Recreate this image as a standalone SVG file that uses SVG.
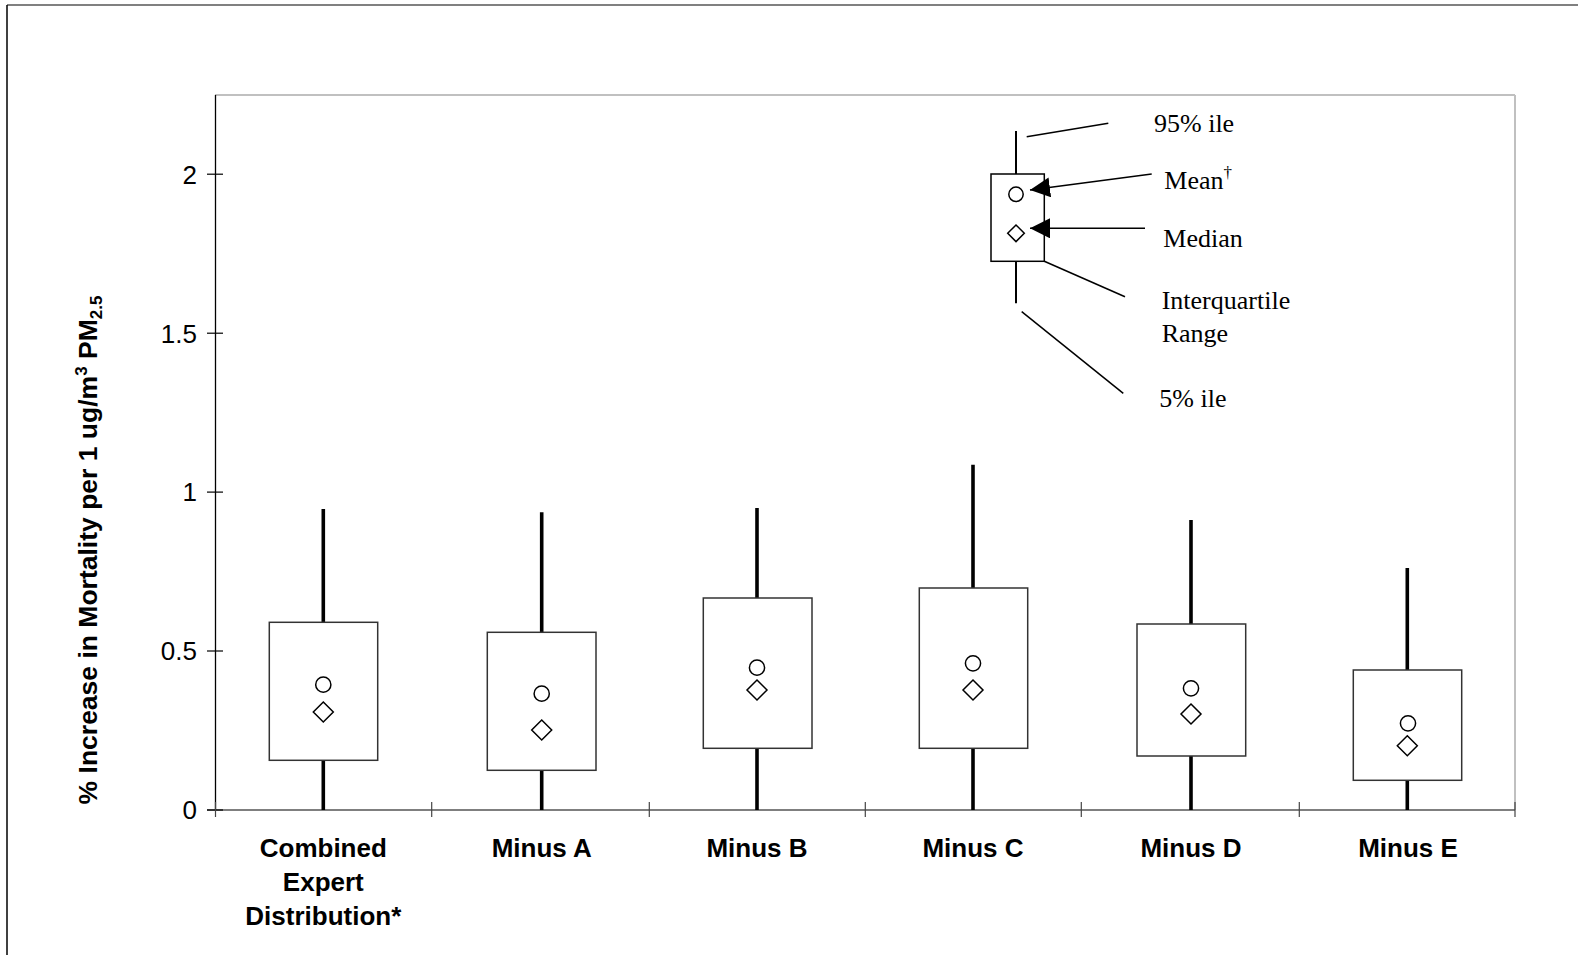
<svg xmlns="http://www.w3.org/2000/svg" width="1578" height="955" viewBox="0 0 1578 955">
<defs>
<style>
.box{fill:#fff;stroke:#333;stroke-width:1.5}
.wh{stroke:#000;stroke-width:3.6}
.mean{fill:none;stroke:#000;stroke-width:1.5}
.med{fill:none;stroke:#000;stroke-width:1.5}
.tick{stroke:#000;stroke-width:1.2}
.xtick{stroke:#444;stroke-width:1.2}
.tl{font-family:"Liberation Sans",Arial,sans-serif;font-size:26px;fill:#000;text-anchor:end}
.xl{font-family:"Liberation Sans",Arial,sans-serif;font-size:26px;font-weight:bold;fill:#000;text-anchor:middle}
.lg{font-family:"Liberation Serif","Times New Roman",serif;font-size:26px;fill:#000}
.ll{stroke:#000;stroke-width:1.5;fill:none}
</style>
<marker id="ah" markerUnits="userSpaceOnUse" markerWidth="20" markerHeight="20" refX="20" refY="10" orient="auto">
<path d="M0,0 L20,10 L0,20 Z" fill="#000"/>
</marker>
</defs>
<rect x="0" y="0" width="1578" height="955" fill="#fff"/>
<!-- outer frame -->
<line x1="7" y1="5" x2="1578" y2="5" stroke="#808080" stroke-width="2"/>
<line x1="7" y1="5" x2="7" y2="955" stroke="#000" stroke-width="1.5"/>
<!-- plot frame -->
<g id="plot-frame">
<line x1="215" y1="95" x2="1515" y2="95" stroke="#c0c0c0" stroke-width="2"/>
<line x1="1515" y1="95" x2="1515" y2="810" stroke="#c0c0c0" stroke-width="2"/>
<line x1="215.5" y1="95" x2="215.5" y2="810" stroke="#000" stroke-width="1.3"/>
<line x1="207" y1="810" x2="1515" y2="810" stroke="#555" stroke-width="1.5"/>
</g>
<!-- y ticks -->
<g id="y-axis">
<line class="tick" x1="207" y1="174.2" x2="223" y2="174.2"/>
<line class="tick" x1="207" y1="333.2" x2="223" y2="333.2"/>
<line class="tick" x1="207" y1="492.1" x2="223" y2="492.1"/>
<line class="tick" x1="207" y1="651" x2="223" y2="651"/>
<line class="tick" x1="207" y1="810" x2="223" y2="810"/>
<text class="tl" x="197" y="183.5">2</text>
<text class="tl" x="197" y="342.5">1.5</text>
<text class="tl" x="197" y="501.4">1</text>
<text class="tl" x="197" y="660.3">0.5</text>
<text class="tl" x="197" y="819.3">0</text>
<text font-family="'Liberation Sans',Arial,sans-serif" font-size="26.5" font-weight="bold" text-anchor="middle" transform="translate(97,550) rotate(-90)">% Increase in Mortality per 1 ug/m<tspan font-size="17" dy="-10">3</tspan><tspan dy="10"> PM</tspan><tspan font-size="17" dy="5">2.5</tspan></text>
</g>
<!-- x ticks -->
<g id="x-axis">
<line class="xtick" x1="215.5" y1="802" x2="215.5" y2="817"/>
<line class="xtick" x1="431.7" y1="802" x2="431.7" y2="817"/>
<line class="xtick" x1="649.3" y1="802" x2="649.3" y2="817"/>
<line class="xtick" x1="865.3" y1="802" x2="865.3" y2="817"/>
<line class="xtick" x1="1081.3" y1="802" x2="1081.3" y2="817"/>
<line class="xtick" x1="1299.3" y1="802" x2="1299.3" y2="817"/>
<line class="xtick" x1="1515" y1="802" x2="1515" y2="817"/>
<text class="xl" x="323.3" y="857">Combined</text>
<text class="xl" x="323.3" y="891">Expert</text>
<text class="xl" x="323.3" y="925">Distribution*</text>
<text class="xl" x="541.7" y="857">Minus A</text>
<text class="xl" x="757" y="857">Minus B</text>
<text class="xl" x="973" y="857">Minus C</text>
<text class="xl" x="1191" y="857">Minus D</text>
<text class="xl" x="1408" y="857">Minus E</text>
</g>
<!-- boxes -->
<g id="box-combined">
<line class="wh" x1="323.3" y1="509" x2="323.3" y2="810"/>
<rect class="box" x="269.3" y="622.3" width="108.4" height="138"/>
<circle class="mean" cx="323.3" cy="684.7" r="7.6"/>
<path class="med" d="M323.3,702 L333.3,712 L323.3,722 L313.3,712 Z"/>
</g>
<g id="box-minus-a">
<line class="wh" x1="541.7" y1="512.3" x2="541.7" y2="810"/>
<rect class="box" x="487.3" y="632.3" width="108.7" height="138"/>
<circle class="mean" cx="541.7" cy="693.7" r="7.6"/>
<path class="med" d="M541.7,720 L551.7,730 L541.7,740 L531.7,730 Z"/>
</g>
<g id="box-minus-b">
<line class="wh" x1="757" y1="508" x2="757" y2="810"/>
<rect class="box" x="703.3" y="598" width="108.7" height="150.3"/>
<circle class="mean" cx="757" cy="667.7" r="7.6"/>
<path class="med" d="M757,680 L767,690 L757,700 L747,690 Z"/>
</g>
<g id="box-minus-c">
<line class="wh" x1="973" y1="464.7" x2="973" y2="810"/>
<rect class="box" x="919.3" y="588" width="108.4" height="160.3"/>
<circle class="mean" cx="973" cy="663.3" r="7.6"/>
<path class="med" d="M973,680 L983,690 L973,700 L963,690 Z"/>
</g>
<g id="box-minus-d">
<line class="wh" x1="1191" y1="520" x2="1191" y2="810"/>
<rect class="box" x="1137" y="624" width="108.7" height="132"/>
<circle class="mean" cx="1191" cy="688.3" r="7.6"/>
<path class="med" d="M1191,704 L1201,714 L1191,724 L1181,714 Z"/>
</g>
<g id="box-minus-e">
<line class="wh" x1="1407.3" y1="568" x2="1407.3" y2="810"/>
<rect class="box" x="1353.3" y="670" width="108.4" height="110.3"/>
<circle class="mean" cx="1408" cy="723.3" r="7.6"/>
<path class="med" d="M1407.3,735.7 L1417.3,745.7 L1407.3,755.7 L1397.3,745.7 Z"/>
</g>
<!-- legend -->
<g id="legend-box">
<line x1="1016" y1="131" x2="1016" y2="303.3" stroke="#000" stroke-width="2"/>
<rect x="991" y="174" width="53.3" height="87.3" fill="#fff" stroke="#000" stroke-width="1.5"/>
<circle class="mean" cx="1016" cy="194.3" r="7.2"/>
<path class="med" d="M1016,225 L1024.3,233.3 L1016,241.6 L1007.7,233.3 Z"/>
</g>
<g id="legend-connectors">
<line class="ll" x1="1026.7" y1="136.7" x2="1108.3" y2="123.3"/>
<line class="ll" x1="1151.7" y1="174" x2="1030" y2="190" marker-end="url(#ah)"/>
<line class="ll" x1="1145" y1="228.3" x2="1030" y2="228.3" marker-end="url(#ah)"/>
<line class="ll" x1="1044.3" y1="261.3" x2="1125" y2="296.7"/>
<line class="ll" x1="1021.7" y1="311.7" x2="1123.3" y2="393.3"/>
</g>
<g id="legend-labels">
<text class="lg" x="1154" y="131.7">95% ile</text>
<text class="lg" x="1164.3" y="189.3">Mean<tspan font-size="17" dy="-11">†</tspan></text>
<text class="lg" x="1163.3" y="246.7">Median</text>
<text class="lg" x="1161.7" y="309">Interquartile</text>
<text class="lg" x="1161.7" y="341.7">Range</text>
<text class="lg" x="1159.3" y="406.7">5% ile</text>
</g>
</svg>
